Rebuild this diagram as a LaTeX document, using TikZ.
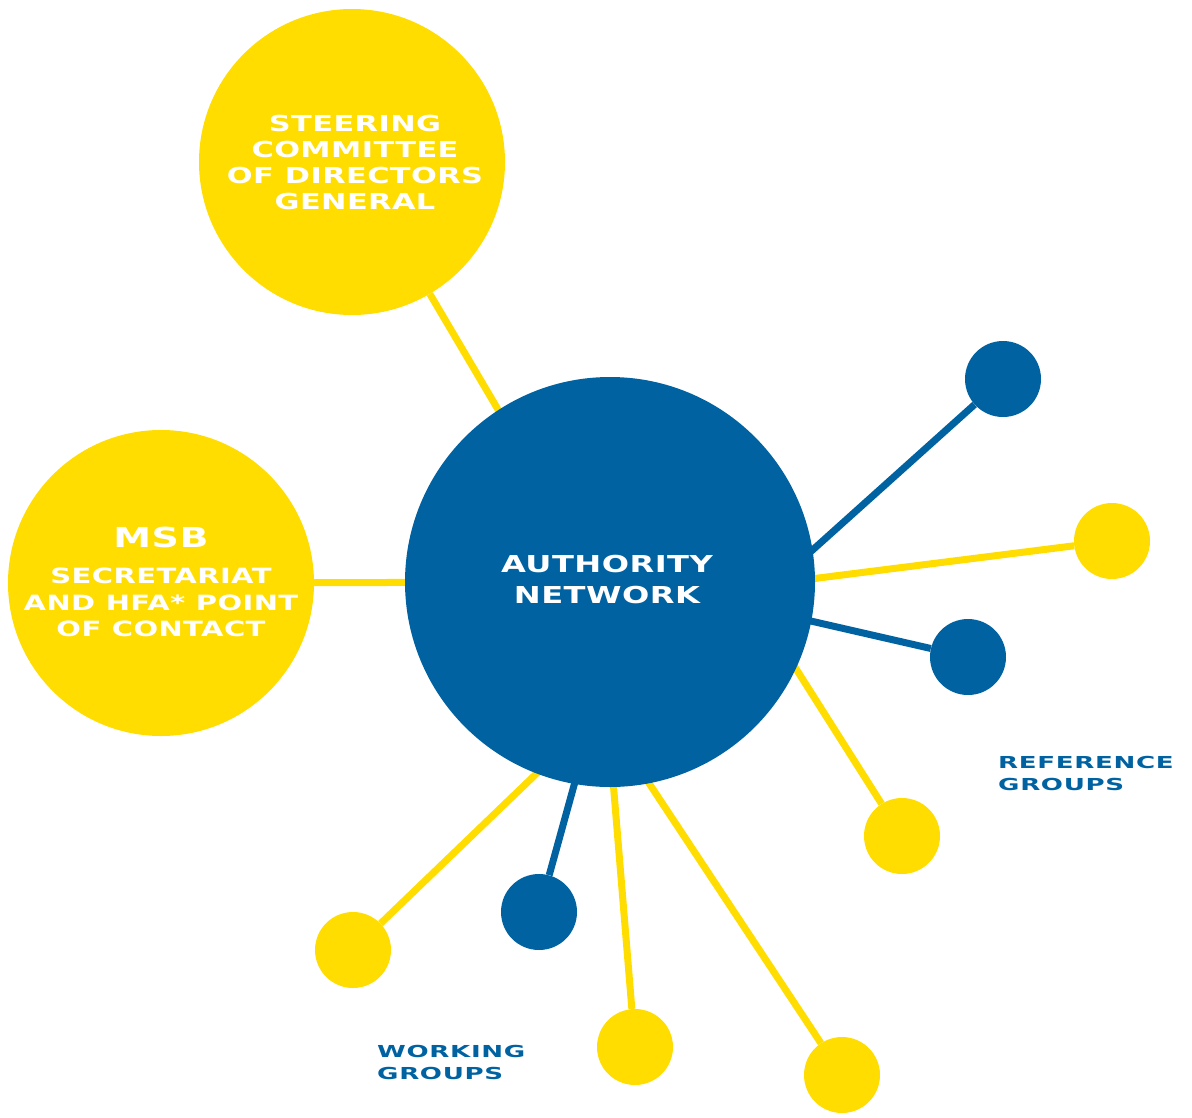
\documentclass[tikz,border=0pt]{standalone}
\usepackage{fontspec}
\usetikzlibrary{calc}
\newfontfamily\fbig{DejaVu Sans Bold}[FakeStretch=1.38,LetterSpace=2]
\newfontfamily\fsmall{DejaVu Sans Bold}[FakeStretch=1.58,LetterSpace=4]
\definecolor{myyellow}{HTML}{FFDD00}
\definecolor{myblue}{HTML}{0062A1}
\pgfdeclarelayer{back}
\pgfsetlayers{back,main}
\begin{document}
\begin{tikzpicture}[x=1pt,y=-1pt,
  bigcirc/.style={circle,fill=myyellow,minimum size=306pt,inner sep=0pt},
  hubcirc/.style={circle,fill=myblue,minimum size=410pt,inner sep=0pt},
  ydot/.style={circle,fill=myyellow,minimum size=76pt,inner sep=0pt},
  bdot/.style={circle,fill=myblue,minimum size=76pt,inner sep=0pt},
  yline/.style={draw=myyellow,line width=7pt},
  bline/.style={draw=myblue,line width=7pt},
  wtxt/.style 2 args={text=white,font=\fbig\fontsize{#1}{#2}\selectfont,align=center,inner sep=0pt},
  btxt/.style={text=myblue,font=\fsmall\fontsize{16.5}{22.5}\selectfont,align=left,inner sep=0pt,anchor=north west}]
\useasboundingbox (0,0) rectangle (1192,1117);
% main circles
\node[bigcirc] (steer) at (352,162) {};
\node[bigcirc] (msb) at (161,583) {};
\node[hubcirc] (hub) at (610,582) {};
% small circles
\node[bdot] (r1) at (1003,379) {};
\node[ydot] (r2) at (1112,541) {};
\node[bdot] (r3) at (968,657) {};
\node[ydot] (r4) at (902,836) {};
\node[bdot] (w1) at (539,912) {};
\node[ydot] (w2) at (353,950) {};
\node[ydot] (w3) at (635,1047) {};
\node[ydot] (w4) at (842,1075) {};
% connectors
\begin{pgfonlayer}{back}
\draw[yline] (steer) -- ($(steer)!1.04!(hub.123)$);
\draw[yline] (msb) -- (hub);
\draw[bline] (r1) -- ($(r1)!1.04!(hub.9)$);
\draw[yline] (r2) -- ($(r2)!1.04!(hub.1)$);
\draw[bline] (r3) -- ($(r3)!1.04!(hub.-11)$);
\draw[yline] (r4) -- ($(r4)!1.04!(hub.-25)$);
\draw[bline] (w1) -- ($(w1)!1.04!(hub.-100)$);
\draw[yline] (w2) -- ($(w2)!1.04!(hub.-111)$);
\draw[yline] (w3) -- ($(w3)!1.04!(hub.-89)$);
\draw[yline] (w4) -- ($(w4)!1.04!(hub.-79)$);
\end{pgfonlayer}
% texts
\node[wtxt={22}{26}] (steertxt) at (355,162) {STEERING\\COMMITTEE\\OF DIRECTORS\\GENERAL};
\node[wtxt={27.5}{30}] (msbtxt) at (161,537) {MSB};
\node[wtxt={21}{26.5}] (sectxt) at (161,602.5) {SECRETARIAT\\AND HFA* POINT\\OF CONTACT};
\node[wtxt={23.3}{31}] (hubtxt) at (607,580) {AUTHORITY\\NETWORK};
\node[btxt] (reflbl) at (998,756) {REFERENCE\\GROUPS};
\node[btxt] (worklbl) at (377,1045) {WORKING\\GROUPS};
\end{tikzpicture}
\end{document}
